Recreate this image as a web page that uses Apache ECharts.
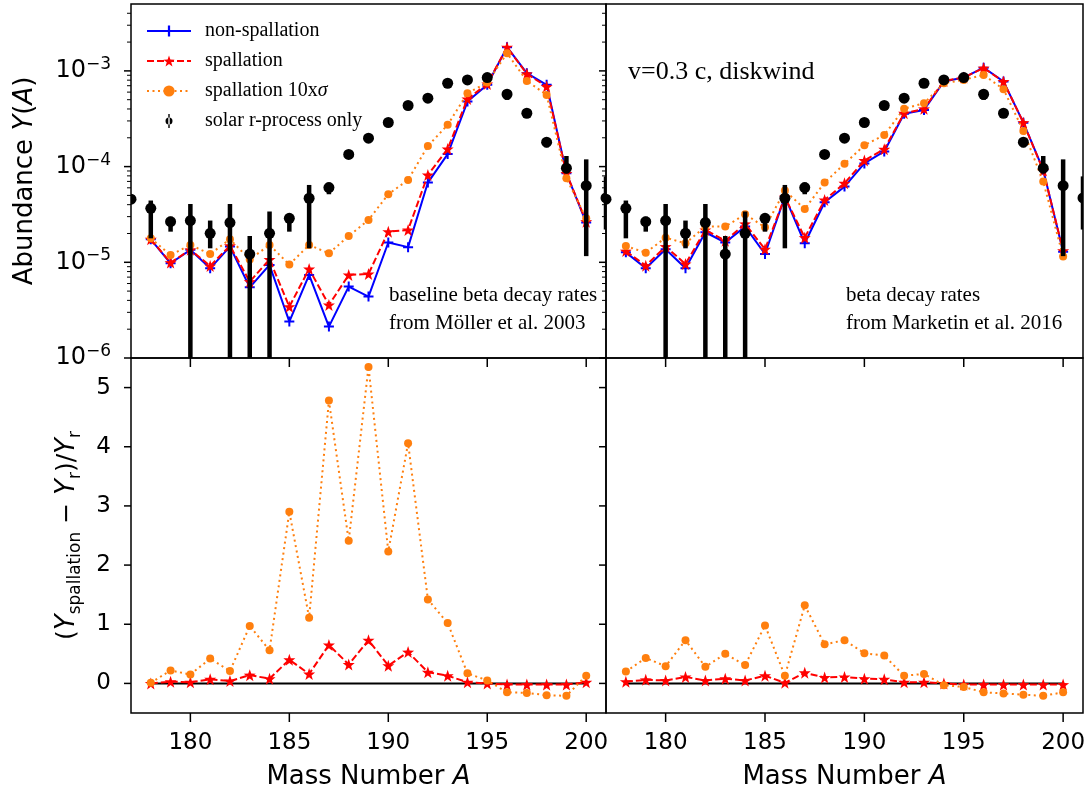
<!DOCTYPE html>
<html>
<head>
<meta charset="utf-8">
<script src="https://cdn.jsdelivr.net/npm/echarts@6/dist/echarts.min.js"></script>
<style>
  html, body { margin: 0; padding: 0; background: #fff; }
  #chart { width: 1091px; height: 795px; }
</style>
</head>
<body>
<div id="chart"></div>
<script>
// mass numbers of the model curves
const masses = [178, 179, 180, 181, 182, 183, 184, 185, 186, 187, 188, 189, 190, 191, 192, 193, 194, 195, 196, 197, 198, 199, 200]

// abundances, Moller et al. 2003 beta decay rates
const nonSpallMoller = [1.74e-5, 9.77e-6, 1.35e-5, 8.65e-6, 1.46e-5, 5.48e-6, 9.38e-6, 2.40e-6, 7.38e-6, 2.13e-6, 5.57e-6, 4.38e-6, 1.61e-5, 1.44e-5, 6.81e-5, 1.35e-4, 4.78e-4, 7.15e-4, 1.77e-3, 9.46e-4, 7.15e-4, 8.51e-5, 2.60e-5]
const spallMoller = [1.74e-5, 9.93e-6, 1.35e-5, 9.16e-6, 1.49e-5, 6.28e-6, 1.07e-5, 3.44e-6, 8.52e-6, 3.58e-6, 7.38e-6, 7.56e-6, 2.09e-5, 2.18e-5, 8.18e-5, 1.53e-4, 5.09e-4, 7.31e-4, 1.77e-3, 9.31e-4, 6.86e-4, 8.51e-5, 2.66e-5]
const spall10Moller = [1.78e-5, 1.19e-5, 1.52e-5, 1.22e-5, 1.74e-5, 1.07e-5, 1.52e-5, 9.46e-6, 1.52e-5, 1.24e-5, 1.88e-5, 2.77e-5, 5.14e-5, 7.26e-5, 1.64e-4, 2.73e-4, 5.84e-4, 7.55e-4, 1.53e-3, 7.86e-4, 5.61e-4, 7.55e-5, 2.88e-5]

// abundances, Marketin et al. 2016 beta decay rates
const nonSpallMarketin = [1.27e-5, 8.65e-6, 1.37e-5, 8.65e-6, 2.06e-5, 1.61e-5, 2.36e-5, 1.22e-5, 4.85e-5, 1.58e-5, 4.24e-5, 6.18e-5, 1.08e-4, 1.44e-4, 3.56e-4, 3.91e-4, 7.74e-4, 8.52e-4, 1.08e-3, 7.74e-4, 2.88e-4, 9.23e-5, 1.29e-5]
const spallMarketin = [1.31e-5, 9.22e-6, 1.46e-5, 9.6e-6, 2.18e-5, 1.68e-5, 2.52e-5, 1.37e-5, 4.8e-5, 1.81e-5, 4.48e-5, 6.70e-5, 1.16e-4, 1.52e-4, 3.61e-4, 4.01e-4, 7.86e-4, 8.52e-4, 1.07e-3, 7.74e-4, 2.88e-4, 9.1e-5, 1.32e-5]
const spall10Marketin = [1.48e-5, 1.26e-5, 1.81e-5, 1.58e-5, 2.36e-5, 2.36e-5, 3.18e-5, 2.32e-5, 5.61e-5, 3.61e-5, 6.81e-5, 1.07e-4, 1.67e-4, 2.14e-4, 4.03e-4, 4.59e-4, 7.43e-4, 8.05e-4, 9.08e-4, 6.43e-4, 2.36e-4, 6.97e-5, 1.15e-5]

// relative differences (Y_spallation - Y_r) / Y_r
const ratioNonSpall = [0, 0, 0, 0, 0, 0, 0, 0, 0, 0, 0, 0, 0, 0, 0, 0, 0, 0, 0, 0, 0, 0, 0]
const ratioSpallMoller = [0.0, 0.03, 0.02, 0.07, 0.04, 0.14, 0.08, 0.40, 0.16, 0.65, 0.32, 0.73, 0.30, 0.53, 0.19, 0.13, 0.02, 0.0, -0.02, -0.02, -0.02, -0.02, 0.02]
const ratio10Moller = [0.01, 0.22, 0.15, 0.42, 0.21, 0.97, 0.56, 2.90, 1.11, 4.78, 2.41, 5.35, 2.23, 4.06, 1.42, 1.02, 0.17, 0.05, -0.15, -0.16, -0.20, -0.21, 0.13]
const ratioSpallMarketin = [0.03, 0.06, 0.05, 0.11, 0.05, 0.08, 0.05, 0.13, 0.01, 0.18, 0.10, 0.11, 0.08, 0.07, 0.02, 0.02, 0.0, -0.02, -0.02, -0.02, -0.02, -0.02, -0.02]
const ratio10Marketin = [0.20, 0.43, 0.29, 0.73, 0.28, 0.50, 0.31, 0.98, 0.13, 1.32, 0.66, 0.73, 0.51, 0.47, 0.13, 0.16, -0.03, -0.06, -0.15, -0.17, -0.19, -0.21, -0.15]

// solar r-process residuals with error bar ends (0 = below the plot)
const solarMasses = [177, 178, 179, 180, 181, 182, 183, 184, 185, 186, 187, 188, 189, 190, 191, 192, 193, 194, 195, 196, 197, 198, 199, 200, 201]
const solarY = [4.56e-5, 3.66e-5, 2.66e-5, 2.73e-5, 2.01e-5, 2.60e-5, 1.22e-5, 2.01e-5, 2.88e-5, 4.67e-5, 6.03e-5, 1.34e-4, 1.98e-4, 2.89e-4, 4.35e-4, 5.18e-4, 7.43e-4, 8.05e-4, 8.52e-4, 5.70e-4, 3.61e-4, 1.80e-4, 9.62e-5, 6.32e-5, 4.7e-5]
const solarLow = [4.56e-5, 1.78e-5, 2.09e-5, 0, 1.40e-5, 0, 0, 0, 2.09e-5, 1.40e-5, 5.14e-5, 1.34e-4, 1.98e-4, 2.89e-4, 4.35e-4, 5.18e-4, 7.43e-4, 8.05e-4, 8.52e-4, 4.98e-4, 3.61e-4, 1.59e-4, 8.5e-5, 1.16e-5, 2.2e-5]
const solarHigh = [4.56e-5, 4.42e-5, 3.0e-5, 4.07e-5, 2.73e-5, 4.07e-5, 1.88e-5, 3.39e-5, 3.18e-5, 6.43e-5, 6.8e-5, 1.34e-4, 1.98e-4, 2.89e-4, 4.35e-4, 5.18e-4, 7.43e-4, 8.05e-4, 8.52e-4, 6.3e-4, 3.61e-4, 1.98e-4, 1.29e-4, 1.19e-4, 7.9e-5]

// tick positions
const massTicks = [180, 185, 190, 195, 200]
const ratioTicks = [0, 1, 2, 3, 4, 5]
const logTicks = [1e-6, 1e-5, 1e-4, 1e-3]
const logMinorTicks = [2e-6, 3e-6, 4e-6, 5e-6, 6e-6, 7e-6, 8e-6, 9e-6, 2e-5, 3e-5, 4e-5, 5e-5, 6e-5, 7e-5, 8e-5, 9e-5, 2e-4, 3e-4, 4e-4, 5e-4, 6e-4, 7e-4, 8e-4, 9e-4, 2e-3, 3e-3, 4e-3]

const xMin = 177
const xMax = 201
const yLogMin = 1e-6
const yLogMax = 5e-3
const yRatioMin = -0.5
const yRatioMax = 5.5

const sans = 'DejaVu Sans'
const serif = 'Liberation Serif'
const plusPath = 'path://M-1,-5 L1,-5 L1,-1 L5,-1 L5,1 L1,1 L1,5 L-1,5 L-1,1 L-5,1 L-5,-1 L-1,-1 Z'
const starPath = 'path://M0,-10 L2.35,-3.24 L9.51,-3.09 L3.8,1.24 L5.88,8.09 L0,4 L-5.88,8.09 L-3.8,1.24 L-9.51,-3.09 L-2.35,-3.24 Z'
const solarIcon = 'path://M4,0 L6,0 L6,20 L4,20 Z M0,10 A5,5 0 1 0 10,10 A5,5 0 1 0 0,10 Z'

const chart = echarts.init(document.getElementById('chart'))

function pairs(xs, ys) {
  return xs.map((x, i) => [x, ys[i]])
}

function blueLine(xi, yi, values) {
  return {
    name: 'non-spallation', type: 'line', xAxisIndex: xi, yAxisIndex: yi,
    data: pairs(masses, values), symbol: plusPath, symbolSize: 10,
    lineStyle: { color: '#0000ff', width: 2 },
    itemStyle: { color: '#0000ff' }, z: 3
  }
}

function redLine(xi, yi, values) {
  return {
    name: 'spallation', type: 'line', xAxisIndex: xi, yAxisIndex: yi,
    data: pairs(masses, values), symbol: starPath, symbolSize: 12,
    lineStyle: { color: '#ff0000', width: 2, type: [7, 3] },
    itemStyle: { color: '#ff0000' }, z: 4
  }
}

function orangeLine(xi, yi, values) {
  return {
    name: 'spallation 10xσ', type: 'line', xAxisIndex: xi, yAxisIndex: yi,
    data: pairs(masses, values), symbol: 'circle', symbolSize: 8,
    lineStyle: { color: '#ff7f0e', width: 2, type: [2, 3.5] },
    itemStyle: { color: '#ff7f0e' }, z: 5
  }
}

function renderSolar(params, api) {
  const a = api.value(0)
  const lo = api.value(2)
  const hi = api.value(3)
  const pc = api.coord([a, api.value(1)])
  const children = []
  if (hi > lo) {
    const pl = api.coord([a, Math.max(lo, yLogMin * 0.5)])
    const ph = api.coord([a, hi])
    children.push({ type: 'line', shape: { x1: pc[0], y1: pl[1], x2: pc[0], y2: ph[1] }, style: { stroke: '#000', lineWidth: 4.5 } })
  }
  children.push({ type: 'circle', shape: { cx: pc[0], cy: pc[1], r: 5.5 }, style: { fill: '#000' } })
  return { type: 'group', children }
}

function solarSeries(xi, yi) {
  return {
    name: 'solar r-process only', type: 'custom', xAxisIndex: xi, yAxisIndex: yi,
    clip: true, z: 6, itemStyle: { color: '#000' },
    encode: { x: 0, y: [1, 2, 3] },
    data: solarMasses.map((a, i) => [a, solarY[i], solarLow[i], solarHigh[i]]),
    renderItem: renderSolar
  }
}

// outward tick marks, placed through the axes of the panel
// dir: 'left' for y ticks on the left edge, 'down' for x ticks on the bottom edge
function tickSeries(xi, yi, dir, points, len, width) {
  return {
    type: 'custom', xAxisIndex: xi, yAxisIndex: yi, silent: true, clip: false, z: 8,
    encode: { x: 0, y: 1 },
    data: points,
    renderItem: (params, api) => {
      const p = api.coord([api.value(0), api.value(1)])
      const q = dir === 'left' ? [p[0] - len, p[1]] : [p[0], p[1] + len]
      return {
        type: 'group',
        children: [{ type: 'line', shape: { x1: p[0], y1: p[1], x2: q[0], y2: q[1] }, style: { stroke: '#000', lineWidth: width } }]
      }
    }
  }
}

function panelTicks(xi, yi, yTicks, yMinor, yBottom) {
  const list = [
    tickSeries(xi, yi, 'down', massTicks.map(v => [v, yBottom]), 9, 1.5),
    tickSeries(xi, yi, 'left', yTicks.map(v => [xMin, v]), 7, 1.5)
  ]
  if (yMinor) list.push(tickSeries(xi, yi, 'left', yMinor.map(v => [xMin, v]), 4, 1))
  return list
}

function powLabel(v) {
  const e = Math.round(Math.log10(v))
  return '{b|10}{s|−' + (-e) + '}'
}

const noLine = { show: false, onZero: false }
const noSplit = { show: false }
const noTick = { show: false }
const nameFont = { fontFamily: sans, fontSize: 26, color: '#000' }
const italic = { fontFamily: sans, fontSize: 26, fontStyle: 'italic', color: '#000' }
const gridBase = { show: true, borderColor: '#000', borderWidth: 1.5, backgroundColor: 'transparent', outerBoundsMode: 'none' }

function massAxis(gi, withLabels) {
  const ax = {
    type: 'value', gridIndex: gi, min: xMin, max: xMax, position: 'bottom',
    axisLine: noLine, splitLine: noSplit, axisTick: noTick,
    axisLabel: { show: withLabels, customValues: massTicks, color: '#000', fontFamily: sans, fontSize: 23, margin: 19 }
  }
  if (withLabels) {
    Object.assign(ax, {
      name: 'Mass Number {i|A}', nameLocation: 'middle', nameGap: 51, nameMoveOverlap: false,
      nameTextStyle: Object.assign({ rich: { i: italic } }, nameFont)
    })
  }
  return ax
}

function logAxis(gi, withLabels) {
  const ax = {
    type: 'log', logBase: 10, gridIndex: gi, min: yLogMin, max: yLogMax, position: 'left',
    axisLine: noLine, splitLine: noSplit, axisTick: noTick,
    axisLabel: {
      show: withLabels, customValues: logTicks, formatter: powLabel, margin: 20,
      rich: {
        b: { fontFamily: sans, fontSize: 24, color: '#000', lineHeight: 30 },
        s: { fontFamily: sans, fontSize: 17, color: '#000', verticalAlign: 'top', lineHeight: 17 }
      }
    }
  }
  if (withLabels) {
    Object.assign(ax, {
      name: 'Abundance {i|Y}({i|A})', nameLocation: 'middle', nameGap: 93, nameMoveOverlap: false,
      nameTextStyle: Object.assign({ rich: { i: italic } }, nameFont)
    })
  }
  return ax
}

function ratioAxis(gi, withLabels) {
  const ax = {
    type: 'value', gridIndex: gi, min: yRatioMin, max: yRatioMax, position: 'left',
    axisLine: noLine, splitLine: noSplit, axisTick: noTick,
    axisLabel: { show: withLabels, customValues: ratioTicks, color: '#000', fontFamily: sans, fontSize: 23, margin: 20 }
  }
  if (withLabels) {
    Object.assign(ax, {
      name: '({i|Y}{sub|spallation} − {i|Y}{sub|r})/{i|Y}{sub|r}', nameLocation: 'middle', nameGap: 47, nameMoveOverlap: false,
      nameTextStyle: {
        fontFamily: sans, fontSize: 25, color: '#000',
        rich: {
          i: Object.assign({ lineHeight: 33 }, italic),
          sub: { fontFamily: sans, fontSize: 17, color: '#000', verticalAlign: 'bottom', lineHeight: 17 }
        }
      }
    })
  }
  return ax
}

const option = {
  animation: false,
  backgroundColor: '#fff',
  grid: [
    Object.assign({ left: 131, top: 4, width: 475, height: 354 }, gridBase),
    Object.assign({ left: 606, top: 4, width: 477, height: 354 }, gridBase),
    Object.assign({ left: 131, top: 358, width: 475, height: 355 }, gridBase),
    Object.assign({ left: 606, top: 358, width: 477, height: 355 }, gridBase)
  ],
  xAxis: [massAxis(0, false), massAxis(1, false), massAxis(2, true), massAxis(3, true)],
  yAxis: [logAxis(0, true), logAxis(1, false), ratioAxis(2, true), ratioAxis(3, false)],
  legend: {
    left: 141, top: 15, orient: 'vertical', itemWidth: 44, itemHeight: 14, itemGap: 8,
    selectedMode: false,
    data: [
      { name: 'non-spallation' },
      { name: 'spallation' },
      { name: 'spallation 10xσ' },
      { name: 'solar r-process only', icon: solarIcon, itemStyle: { color: '#000' } }
    ],
    formatter: n => n.replace('σ', '{i|σ}'),
    textStyle: {
      fontFamily: serif, fontSize: 20, color: '#000', padding: [0, 0, 0, 9], lineHeight: 22,
      rich: { i: { fontFamily: serif, fontSize: 20, fontStyle: 'italic', color: '#000', lineHeight: 22 } }
    }
  },
  graphic: [
    { type: 'text', left: 389, top: 281, style: { text: 'baseline beta decay rates\nfrom Mo\u0308ller et al. 2003', font: '21px "Liberation Serif"', lineHeight: 28, fill: '#000' } },
    { type: 'text', left: 846, top: 281, style: { text: 'beta decay rates\nfrom Marketin et al. 2016', font: '21px "Liberation Serif"', lineHeight: 28, fill: '#000' } },
    { type: 'text', left: 628, top: 59, style: { text: 'v=0.3 c, diskwind', font: '26px "Liberation Serif"', fill: '#000' } }
  ],
  series: [
    // top left: Moller rates
    blueLine(0, 0, nonSpallMoller),
    redLine(0, 0, spallMoller),
    orangeLine(0, 0, spall10Moller),
    solarSeries(0, 0),
    ...panelTicks(0, 0, logTicks, logMinorTicks, yLogMin),
    // top right: Marketin rates
    blueLine(1, 1, nonSpallMarketin),
    redLine(1, 1, spallMarketin),
    orangeLine(1, 1, spall10Marketin),
    solarSeries(1, 1),
    ...panelTicks(1, 1, logTicks, logMinorTicks, yLogMin),
    // bottom left
    {
      type: 'line', xAxisIndex: 2, yAxisIndex: 2, data: pairs(masses, ratioNonSpall),
      symbol: 'none', lineStyle: { color: '#000', width: 2 }, z: 2
    },
    redLine(2, 2, ratioSpallMoller),
    orangeLine(2, 2, ratio10Moller),
    ...panelTicks(2, 2, ratioTicks, null, yRatioMin),
    // bottom right
    {
      type: 'line', xAxisIndex: 3, yAxisIndex: 3, data: pairs(masses, ratioNonSpall),
      symbol: 'none', lineStyle: { color: '#000', width: 2 }, z: 2
    },
    redLine(3, 3, ratioSpallMarketin),
    orangeLine(3, 3, ratio10Marketin),
    ...panelTicks(3, 3, ratioTicks, null, yRatioMin)
  ]
}

chart.setOption(option)
</script>
</body>
</html>
